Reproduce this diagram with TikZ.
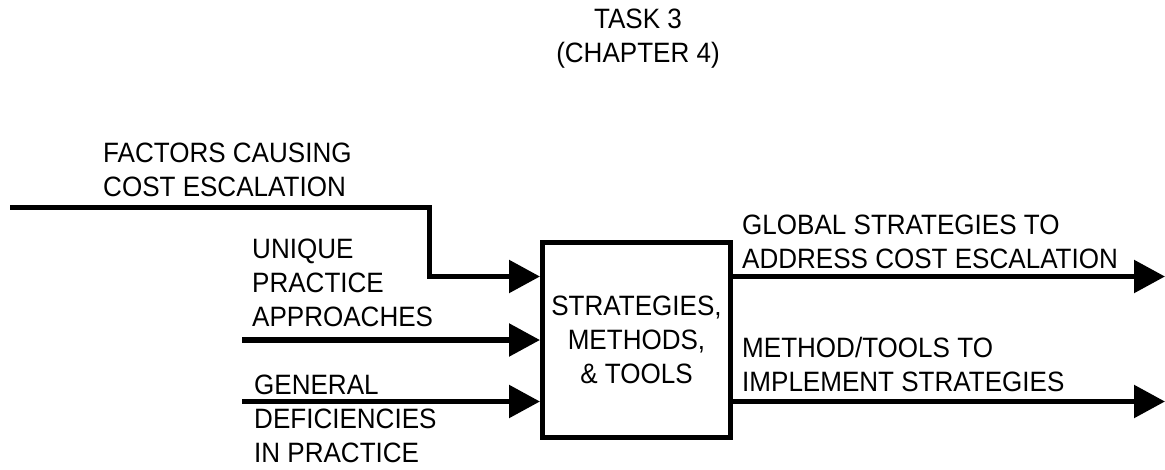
\documentclass[tikz,border=0pt]{standalone}
\usepackage{fontspec}
\setmainfont[FakeStretch=0.93]{Liberation Sans}
\usetikzlibrary{arrows.meta}
\begin{document}
\begin{tikzpicture}[x=1pt,y=-1pt,
  txt/.style={inner sep=0pt,font=\fontsize{28}{34}\selectfont},
  lbl/.style={txt,anchor=north west,align=left},
  flow/.style={line width=5.5pt,-{Triangle[length=31pt,width=32pt]}},
  procbox/.style={txt,draw,line width=5pt,minimum width=188pt,minimum height=195pt,align=center}]
\useasboundingbox (0,0) rectangle (1165,469);
% title
\node[txt,anchor=north,align=center] (title) at (638,9) {TASK 3\\(CHAPTER 4)};
% activity box
\node[procbox] (proc) at (636.5,340) {STRATEGIES,\\METHODS,\\\&\ TOOLS};
% input labels
\node[lbl] (factors) at (103,143) {FACTORS CAUSING\\COST ESCALATION};
\node[lbl] (unique) at (252,239) {UNIQUE\\PRACTICE\\APPROACHES};
\node[lbl] (general) at (254,375) {GENERAL\\DEFICIENCIES\\IN PRACTICE};
% output labels
\node[lbl] (global) at (742,215) {GLOBAL STRATEGIES TO\\ADDRESS COST ESCALATION};
\node[lbl] (method) at (742,337) {METHOD/TOOLS TO\\IMPLEMENT STRATEGIES};
% connector ends
\coordinate (inA) at (10,207.5);
\coordinate (bend) at (429.5,207.5);
\coordinate (inB) at (242,340);
\coordinate (inC) at (242,401.5);
\coordinate (outA) at (1165,276.5);
\coordinate (outC) at (1165,401.5);
% inputs
\draw[flow] (inA) -- (bend) |- (proc.west |- outA);
\draw[flow] (inB) -- (proc.west |- inB);
\draw[flow] (inC) -- (proc.west |- inC);
% outputs
\draw[flow] (proc.east |- outA) -- (outA);
\draw[flow] (proc.east |- outC) -- (outC);
\end{tikzpicture}
\end{document}
